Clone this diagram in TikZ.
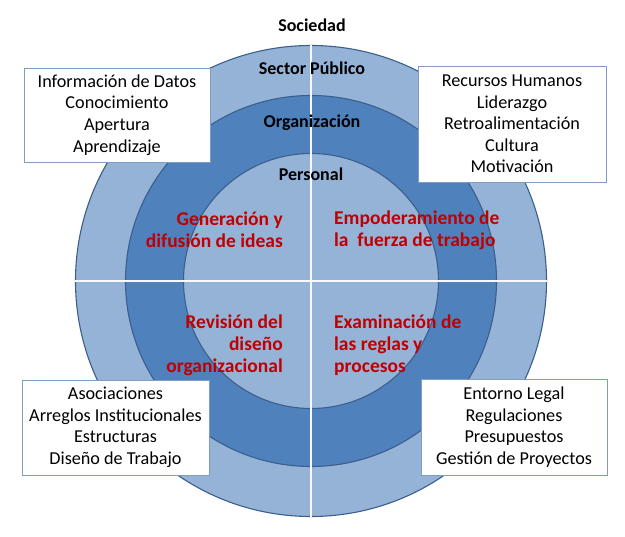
\documentclass[tikz,border=0pt]{standalone}
\usepackage{fontspec}
\setmainfont{Carlito}
\definecolor{lightring}{HTML}{95B3D7}
\definecolor{midring}{HTML}{4F81BD}
\definecolor{ringedge}{HTML}{3B5E8C}
\definecolor{boxedge}{HTML}{7F9CC2}
\definecolor{redtxt}{HTML}{C00000}
\begin{document}
\begin{tikzpicture}[x=1pt,y=-1pt,
  ring/.style={circle, inner sep=0pt, draw=ringedge, line width=1.1pt},
  divider/.style={draw=white!92!lightring, line width=1.4pt},
  infobox/.style={draw=boxedge, line width=0.9pt, fill=white, align=center,
    inner sep=0pt, font=\fontsize{18.2}{21.6}\selectfont},
  levellabel/.style={font=\bfseries\fontsize{18}{20}\selectfont, inner sep=0pt},
  quadlabel/.style={text=redtxt, inner sep=0pt,
    font=\bfseries\fontsize{19.5}{22}\selectfont}]
\useasboundingbox (0,0) rectangle (625,537);
\node[ring, fill=lightring, minimum size=471pt] (outer) at (311,281) {};
\node[ring, fill=midring, minimum size=371pt] (middle) at (311,281) {};
\node[ring, fill=lightring, minimum size=255pt] (inner) at (311,281) {};
\path[divider] (outer.north) -- (outer.south);
\path[divider] (outer.west) -- (outer.east);

\node[levellabel] (soc) at (312,25) {Sociedad};
\node[levellabel] (sec) at (312,68) {Sector Público};
\node[levellabel] (org) at (312,123) {Organización};
\node[levellabel] (per) at (311,174) {Personal};

\node[quadlabel, anchor=east, align=right] (q1) at (283,230) {Generación y\\difusión de ideas};
\node[quadlabel, anchor=west, align=left] (q2) at (334,230) {Empoderamiento de\\la\ \ fuerza de trabajo};
\node[quadlabel, anchor=east, align=right] (q3) at (283,345) {Revisión del\\diseño\\organizacional};
\node[quadlabel, anchor=west, align=left] (q4) at (334,345) {Examinación de\\las reglas y\\procesos};

\node[infobox, minimum width=186pt, minimum height=94pt] (b1) at (117,115)
  {Información de Datos\\Conocimiento\\Apertura\\Aprendizaje};
\node[infobox, minimum width=188pt, minimum height=116pt] (b2) at (512,124)
  {Recursos Humanos\\Liderazgo\\Retroalimentación\\Cultura\\Motivación};
\node[infobox, minimum width=187pt, minimum height=95pt] (b3) at (115.5,427.5)
  {Asociaciones\\Arreglos Institucionales\\Estructuras\\Diseño de Trabajo};
\node[infobox, minimum width=186pt, minimum height=96pt] (b4) at (514,427)
  {Entorno Legal\\Regulaciones\\Presupuestos\\Gestión de Proyectos};
\end{tikzpicture}
\end{document}
